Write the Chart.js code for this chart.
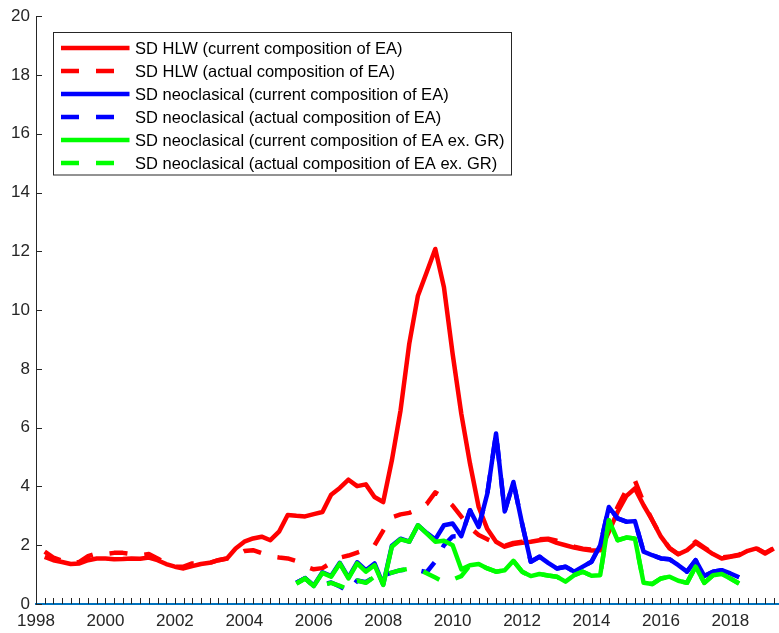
<!DOCTYPE html>
<html>
<head>
<meta charset="utf-8">
<style>
  html, body { margin: 0; padding: 0; background: #ffffff; }
  canvas { display: block; }
</style>
<script src="https://cdn.jsdelivr.net/npm/chart.js@4.4.1/dist/chart.umd.min.js"></script>
</head>
<body>
<canvas id="chart" width="779" height="633"></canvas>
<script>
// Quarterly observations, first one at 1998 Q2 (1998.25 on the time axis)
const firstQuarter = 1998.25;
const quarterStep = 0.25;

const yearTicks = [1998, 2000, 2002, 2004, 2006, 2008, 2010, 2012, 2014, 2016, 2018];
const valueTicks = [0, 2, 4, 6, 8, 10, 12, 14, 16, 18, 20];

const seriesLabels = [
  'SD HLW (current composition of EA)',
  'SD HLW (actual composition of EA)',
  'SD neoclasical (current composition of EA)',
  'SD neoclasical (actual composition of EA)',
  'SD neoclasical (current composition of EA ex. GR)',
  'SD neoclasical (actual composition of EA ex. GR)'
];

// SD HLW, current composition of EA
const hlwCurrent = [
  1.60, 1.49, 1.43,
  1.36, 1.38, 1.49, 1.55,
  1.55, 1.52, 1.53, 1.55,
  1.54, 1.58, 1.49, 1.36,
  1.27, 1.21, 1.29, 1.36,
  1.40, 1.49, 1.55, 1.89,
  2.12, 2.23, 2.29, 2.17,
  2.46, 3.03, 3.00, 2.98,
  3.06, 3.13, 3.72, 3.95,
  4.23, 4.01, 4.07, 3.64,
  3.47, 4.89, 6.59, 8.85,
  10.49, 11.28, 12.08, 10.78,
  8.51, 6.47, 4.78, 3.30,
  2.55, 2.12, 1.95, 2.04,
  2.08, 2.12, 2.17, 2.20,
  2.08, 2.00, 1.92, 1.86,
  1.82, 1.83, 2.46, 3.13,
  3.67, 3.93, 3.36, 2.85,
  2.29, 1.89, 1.69, 1.83,
  2.08, 1.89, 1.70, 1.55,
  1.61, 1.66, 1.81, 1.89,
  1.72, 1.89
];

// SD HLW, actual composition of EA
const hlwActual = [
  1.78, 1.58, 1.47,
  1.38, 1.43, 1.63, 1.72,
  1.70, 1.74, 1.74, 1.70,
  1.66, 1.70, 1.55, 1.38,
  1.27, 1.27, 1.38, 1.38,
  1.40, 1.49, 1.55, 1.66,
  1.80, 1.83, 1.73, 1.62,
  1.58, 1.55, 1.46, 1.28,
  1.18, 1.22, 1.40, 1.58,
  1.65, 1.75, 1.85, 2.00,
  2.50, 2.95, 3.05, 3.10,
  3.22, 3.40, 3.80, 3.62,
  3.35, 2.97, 2.60, 2.35,
  2.20, 2.08, 1.98, 2.08,
  2.12, 2.15, 2.20, 2.22,
  2.15, 2.05, 1.95, 1.88,
  1.85, 1.88, 2.50, 3.30,
  3.87, 4.20, 3.45, 2.85,
  2.30, 1.90, 1.70, 1.83,
  2.12, 1.92, 1.72, 1.58,
  1.62, 1.68, 1.81, 1.90,
  1.74, 1.90
];

const n = null;
const leadingGap = [n, n, n, n, n, n, n, n, n, n, n, n, n, n, n, n, n, n, n, n, n, n, n, n, n, n, n, n, n];
const trailingGap = [n, n, n, n];

// SD neoclassical, current composition of EA (2005 Q3 - 2018 Q2)
const neoCurrent = [
  0.72, 0.88,
  0.62, 1.08, 0.95, 1.40,
  0.90, 1.42, 1.15, 1.38,
  0.66, 1.98, 2.22, 2.12,
  2.68, 2.42, 2.20, 2.68,
  2.74, 2.31, 3.19, 2.62,
  3.76, 5.80, 3.15, 4.15,
  2.74, 1.44, 1.61, 1.40,
  1.21, 1.27, 1.10, 1.27,
  1.44, 2.00, 3.30, 2.91,
  2.80, 2.82, 1.78, 1.66,
  1.55, 1.52, 1.32, 1.10,
  1.49, 0.95, 1.10, 1.15,
  1.04, 0.91
];

// SD neoclassical, actual composition of EA
const neoActual = [
  0.72, 0.88,
  0.62, 0.66, 0.73, 0.60,
  0.42, 0.80, 0.74, 0.93,
  0.98, 1.07, 1.15, 1.18,
  1.15, 1.08, 1.45, 2.00,
  2.30, 2.31, 3.19, 2.62,
  3.76, 5.80, 3.15, 4.15,
  2.74, 1.44, 1.61, 1.40,
  1.21, 1.27, 1.10, 1.27,
  1.44, 2.00, 3.30, 2.91,
  2.80, 2.82, 1.78, 1.66,
  1.55, 1.52, 1.32, 1.10,
  1.49, 0.95, 1.10, 1.15,
  1.04, 0.91
];

// SD neoclassical, current composition of EA excluding Greece
const neoExGrCurrent = [
  0.70, 0.87,
  0.61, 1.06, 0.93, 1.38,
  0.87, 1.38, 1.10, 1.32,
  0.65, 1.95, 2.20, 2.12,
  2.68, 2.40, 2.12, 2.15,
  2.00, 1.18, 1.32, 1.36,
  1.21, 1.10, 1.15, 1.47,
  1.10, 0.95, 1.02, 0.97,
  0.93, 0.76, 0.98, 1.10,
  0.96, 0.98, 2.85, 2.17,
  2.26, 2.23, 0.72, 0.68,
  0.87, 0.93, 0.79, 0.72,
  1.27, 0.72, 0.98, 1.02,
  0.87, 0.70
];

// SD neoclassical, actual composition of EA excluding Greece
const neoExGrActual = [
  0.70, 0.87,
  0.61, 0.65, 0.72, 0.62,
  0.50, 0.80, 0.72, 0.93,
  0.98, 1.07, 1.15, 1.20,
  1.18, 1.05, 0.90, 0.75,
  0.83, 0.95, 1.32, 1.36,
  1.21, 1.10, 1.15, 1.47,
  1.10, 0.95, 1.02, 0.97,
  0.93, 0.76, 0.98, 1.10,
  0.96, 0.98, 2.85, 2.17,
  2.26, 2.23, 0.72, 0.68,
  0.87, 0.93, 0.79, 0.72,
  1.27, 0.72, 0.98, 1.02,
  0.87, 0.70
];

// ---------------------------------------------------------------
const toPoints = values => values.map((v, i) => ({ x: firstQuarter + i * quarterStep, y: v }));
const padded = values => leadingGap.concat(values, trailingGap);

const DASH = [18, 17];
const LINE_WIDTH = 4.5;
const lineStyle = (label, values, color, dashed, order) => ({
  label,
  data: toPoints(values),
  borderColor: color,
  backgroundColor: color,
  borderWidth: LINE_WIDTH,
  borderDash: dashed ? DASH : [],
  borderCapStyle: 'butt',
  borderJoinStyle: 'round',
  pointRadius: 0,
  pointHoverRadius: 0,
  tension: 0,
  fill: false,
  spanGaps: false,
  order
});

const datasets = [
  lineStyle(seriesLabels[0], hlwCurrent, '#ff0000', false, 5),
  lineStyle(seriesLabels[1], hlwActual, '#ff0000', true, 4),
  lineStyle(seriesLabels[2], padded(neoCurrent), '#0000ff', false, 3),
  lineStyle(seriesLabels[3], padded(neoActual), '#0000ff', true, 2),
  lineStyle(seriesLabels[4], padded(neoExGrCurrent), '#00ff00', false, 1),
  lineStyle(seriesLabels[5], padded(neoExGrActual), '#00ff00', true, 0)
];

const AXIS_COLOR = '#262626';
const FONT_FAMILY = '"Liberation Sans", Arial, Helvetica, sans-serif';

// Inward tick marks: quarterly on the time axis, at each label on the value axis
const inwardTicks = {
  id: 'inwardTicks',
  afterDatasetsDraw(chart) {
    const { ctx, chartArea, scales } = chart;
    const x = scales.x, y = scales.y;
    ctx.save();
    ctx.strokeStyle = AXIS_COLOR;
    ctx.lineWidth = 1;
    ctx.beginPath();
    for (let k = 1; x.min + k * quarterStep <= x.max + 1e-9; k++) {
      const px = Math.round(x.getPixelForValue(x.min + k * quarterStep)) + 0.5;
      ctx.moveTo(px, chartArea.bottom);
      ctx.lineTo(px, chartArea.bottom - 6);
    }
    valueTicks.forEach(v => {
      const py = Math.round(y.getPixelForValue(v)) + 0.5;
      ctx.moveTo(chartArea.left, py);
      ctx.lineTo(chartArea.left + 6, py);
    });
    ctx.stroke();
    ctx.restore();
  }
};

// Boxed legend in the upper-left corner of the plot
const boxedLegend = {
  id: 'boxedLegend',
  afterDraw(chart) {
    const ctx = chart.ctx;
    const box = { x: 53.5, y: 32.5, w: 458, h: 142.5 };
    ctx.save();
    ctx.fillStyle = '#ffffff';
    ctx.fillRect(box.x, box.y, box.w, box.h);
    ctx.strokeStyle = AXIS_COLOR;
    ctx.lineWidth = 1;
    ctx.strokeRect(box.x, box.y, box.w, box.h);
    chart.data.datasets.forEach((ds, i) => {
      const yy = 48 + i * 23;
      ctx.beginPath();
      ctx.setLineDash(ds.borderDash || []);
      ctx.lineDashOffset = 0;
      ctx.lineCap = 'butt';
      ctx.strokeStyle = ds.borderColor;
      ctx.lineWidth = ds.borderWidth;
      ctx.moveTo(61, yy);
      ctx.lineTo(129.5, yy);
      ctx.stroke();
      ctx.setLineDash([]);
      ctx.fillStyle = '#000000';
      ctx.font = '16.5px ' + FONT_FAMILY;
      ctx.textAlign = 'left';
      ctx.textBaseline = 'middle';
      ctx.fillText(ds.label, 135, yy + 1);
    });
    ctx.restore();
  }
};

new Chart(document.getElementById('chart'), {
  type: 'line',
  data: { datasets },
  plugins: [inwardTicks, boxedLegend],
  options: {
    responsive: false,
    animation: false,
    devicePixelRatio: 1,
    layout: { padding: { top: 15, right: 0, bottom: 0, left: 0 } },
    plugins: {
      legend: { display: false },
      tooltip: { enabled: false },
      title: { display: false }
    },
    scales: {
      x: {
        type: 'linear',
        min: 1998,
        max: 2019.4,
        afterBuildTicks: s => { s.ticks = yearTicks.map(v => ({ value: v })); },
        afterFit: s => { s.height = 29; },
        grid: { display: true, drawOnChartArea: false, drawTicks: false },
        border: { display: true, color: '#0072BD', width: 2 },
        ticks: {
          autoSkip: false,
          maxRotation: 0,
          padding: 7,
          color: AXIS_COLOR,
          font: { family: FONT_FAMILY, size: 17 },
          callback: v => String(v)
        }
      },
      y: {
        type: 'linear',
        min: 0,
        max: 20,
        afterBuildTicks: s => { s.ticks = valueTicks.map(v => ({ value: v })); },
        afterFit: s => { s.width = 36; },
        grid: { display: true, drawOnChartArea: false, drawTicks: false },
        border: { display: true, color: AXIS_COLOR, width: 1 },
        ticks: {
          padding: 6,
          color: AXIS_COLOR,
          font: { family: FONT_FAMILY, size: 17 },
          callback: v => String(v)
        }
      }
    }
  }
});
</script>
</body>
</html>
